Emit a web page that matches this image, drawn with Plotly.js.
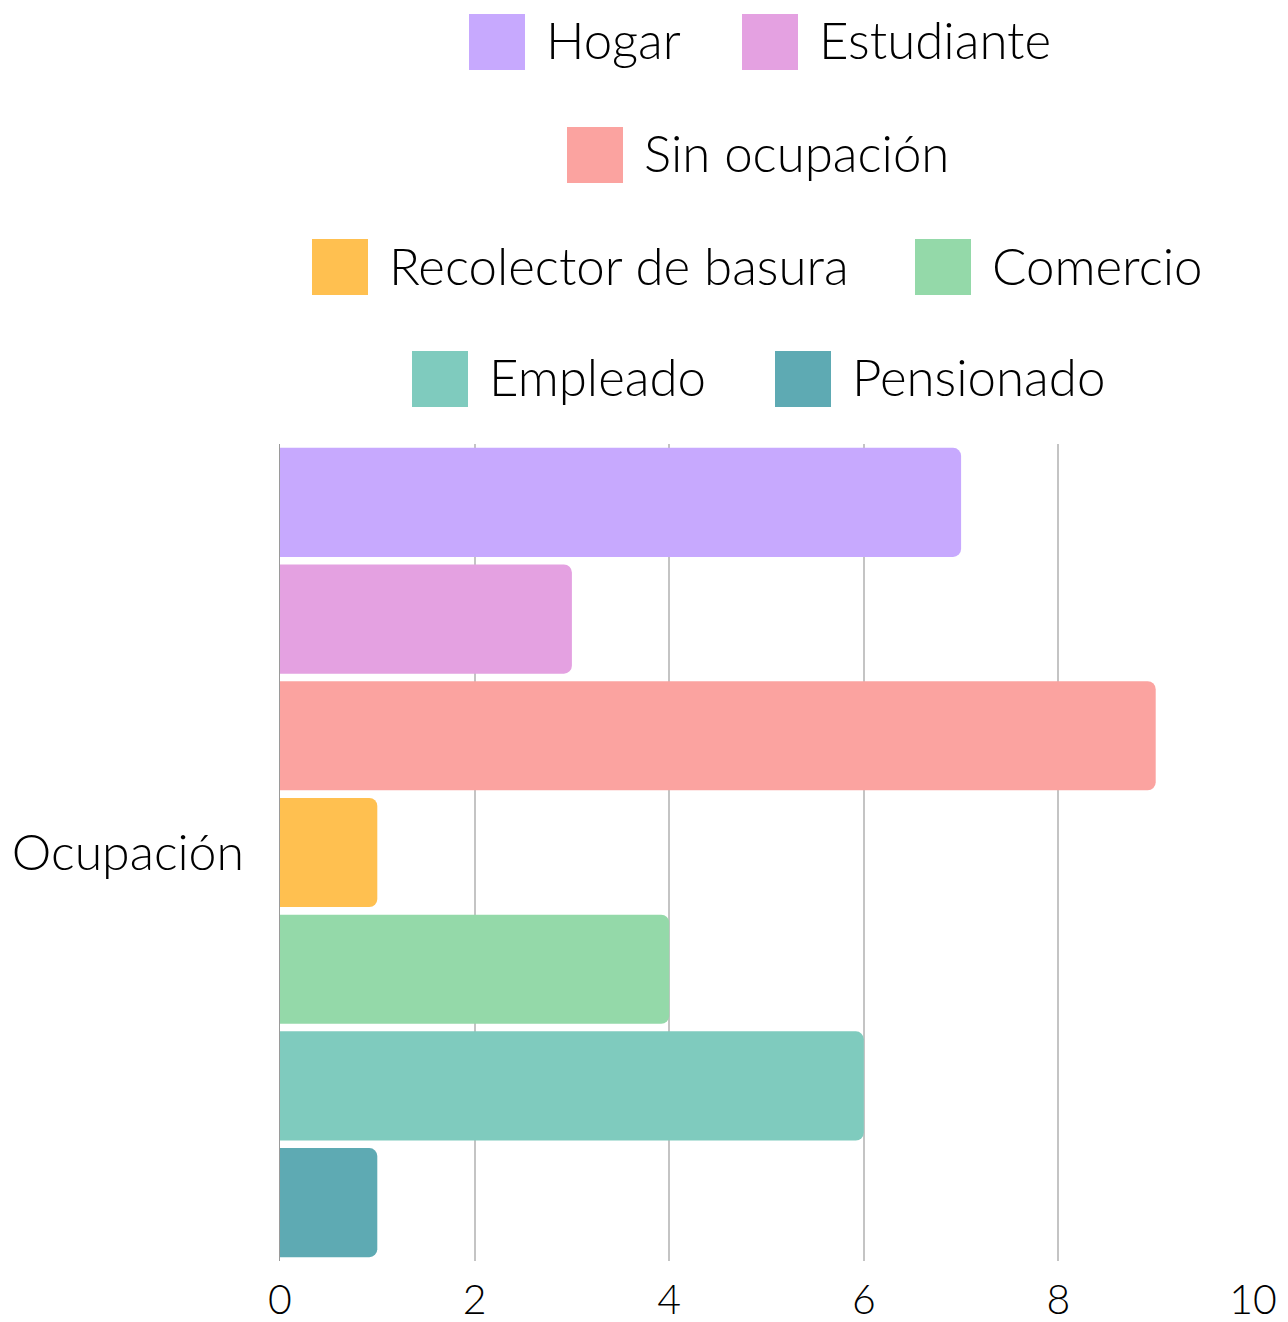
<!DOCTYPE html>
<html>
<head>
<meta charset="utf-8">
<script src="https://cdn.plot.ly/plotly-3.0.1.min.js"></script>
<style>html,body{margin:0;padding:0;background:#fff;}#chart{width:1288px;height:1322px;}</style>
</head>
<body>
<div id="chart"></div>
<script>
// ---- data ----
const category = ["Ocupación"];
const seriesNames = ["Hogar", "Estudiante", "Sin ocupación", "Recolector de basura", "Comercio", "Empleado", "Pensionado"];
const seriesValues = [7, 3, 9, 1, 4, 6, 1];
const seriesColors = ["#c7a9fe", "#e4a1e1", "#fba3a0", "#ffc050", "#94d9a9", "#7fcbbe", "#5eaab3"];
const xTicks = [0, 2, 4, 6, 8, 10];

// ---- layout constants ----
const W = 1288, H = 1322;
const M = {l: 280, r: 35, t: 444, b: 61};
const PW = W - M.l - M.r, PH = H - M.t - M.b;
const FONT = "Lato, 'Open Sans', sans-serif";
const FS = 51;
const FW = 300;
// legend rows (indices into series), row centre y and square left x in pixels
const legendRows = [
  {items: [0, 1], y: 42, sx: [469, 742]},
  {items: [2], y: 155, sx: [567]},
  {items: [3, 4], y: 267, sx: [312, 915]},
  {items: [5, 6], y: 379, sx: [412, 775]}
];
const SQ = 56, GAP = 19, TEXT_DY = -2;

const px2x = px => (px - M.l) / PW;
const py2y = py => (H - M.b - py) / PH;

const traces = seriesNames.map((n, i) => ({
  type: "bar",
  orientation: "h",
  name: n,
  y: category,
  x: [seriesValues[i]],
  marker: {color: seriesColors[i], cornerradius: 8, line: {width: 0}},
  hoverinfo: "x+name"
}));

const shapes = [], annotations = [];
legendRows.forEach(row => {
  row.items.forEach((idx, k) => {
    const x0 = row.sx[k];
    shapes.push({
      type: "rect", xref: "paper", yref: "paper",
      x0: px2x(x0), x1: px2x(x0 + SQ),
      y0: py2y(row.y + SQ / 2), y1: py2y(row.y - SQ / 2),
      fillcolor: seriesColors[idx], line: {width: 0}, layer: "above"
    });
    annotations.push({
      xref: "paper", yref: "paper",
      x: px2x(x0 + SQ + GAP), y: py2y(row.y + TEXT_DY),
      xanchor: "left", yanchor: "middle",
      text: seriesNames[idx], showarrow: false,
      font: {family: FONT, size: FS, color: "#000", weight: FW}
    });
  });
});

const layout = {
  width: W, height: H,
  margin: M,
  paper_bgcolor: "#fff", plot_bgcolor: "#fff",
  barmode: "group",
  bargap: 0,
  bargroupgap: 0.065,
  showlegend: false,
  font: {family: FONT, size: FS, color: "#000", weight: FW},
  xaxis: {
    range: [0, 10],
    tickvals: xTicks,
    ticktext: xTicks.map(String),
    showgrid: true, gridcolor: "#c4c4c4", gridwidth: 2,
    zeroline: false, showline: false,
    ticks: "", ticklen: 0,
    ticklabelstandoff: 11,
    tickfont: {family: FONT, size: 41, color: "#000", weight: FW},
    fixedrange: true
  },
  yaxis: {
    autorange: "reversed",
    showgrid: false, zeroline: false,
    showline: true, linecolor: "#9a9a9a", linewidth: 1,
    ticks: "",
    ticklabelstandoff: 25,
    tickfont: {family: FONT, size: 50, color: "#000", weight: FW},
    fixedrange: true
  },
  shapes: shapes,
  annotations: annotations
};

Plotly.newPlot("chart", traces, layout, {displayModeBar: false, staticPlot: true});
</script>
</body>
</html>
